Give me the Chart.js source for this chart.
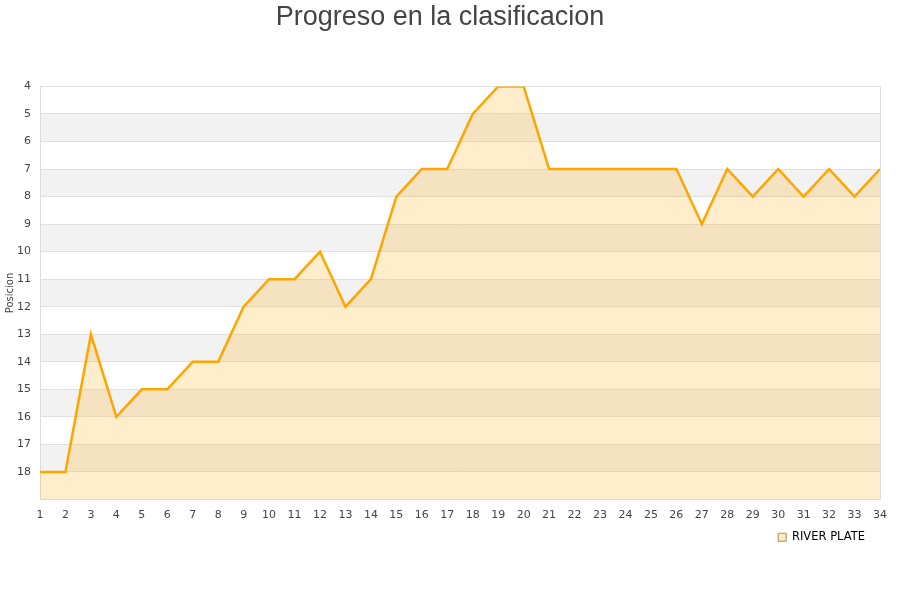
<!DOCTYPE html>
<html>
<head>
<meta charset="utf-8">
<script src="https://cdn.jsdelivr.net/npm/chart.js@4/dist/chart.umd.min.js"></script>
<style>
  html, body { margin: 0; padding: 0; background: #fff; }
  #wrap { width: 900px; height: 600px; }
</style>
</head>
<body>
<div id="wrap"><canvas id="c" width="900" height="600"></canvas></div>
<script>
const jornadas = ['1','2','3','4','5','6','7','8','9','10','11','12','13','14','15','16','17','18','19','20','21','22','23','24','25','26','27','28','29','30','31','32','33','34'];
const posiciones = [18,18,13,16,15,15,14,14,12,11,11,10,12,11,8,7,7,5,4,4,7,7,7,7,7,7,9,7,8,7,8,7,8,7];
const equipo = 'RIVER PLATE';
const titulo = 'Progreso en la clasificacion';
const ejeY = 'Posicion';
const posMin = 4, posMax = 19;

const bandPlugin = {
  id: 'bands',
  afterLayout(chart) {
    const lg = chart.legend;
    if (lg) {
      const dx = -10, dy = 3;
      lg.left += dx; lg.right += dx;
      lg.top += dy; lg.bottom += dy;
    }
  },
  beforeDraw(chart) {
    const { ctx, chartArea: a, scales: { y } } = chart;
    ctx.save();
    for (let v = posMin; v < posMax; v++) {
      if (v % 2 === 1) {
        const y1 = y.getPixelForValue(v), y2 = y.getPixelForValue(v + 1);
        ctx.fillStyle = '#f2f2f2';
        ctx.fillRect(a.left, Math.min(y1, y2), a.right - a.left, Math.abs(y2 - y1));
      }
    }
    ctx.restore();
  },
  afterDatasetsDraw(chart) {
    const { ctx, chartArea: a } = chart;
    ctx.save();
    ctx.strokeStyle = '#dcdcdc';
    ctx.lineWidth = 1;
    ctx.beginPath();
    ctx.moveTo(Math.round(a.right) + 0.5, a.top);
    ctx.lineTo(Math.round(a.right) + 0.5, a.bottom);
    ctx.stroke();
    ctx.restore();
  }
};

new Chart(document.getElementById('c'), {
  type: 'line',
  data: {
    labels: jornadas,
    datasets: [{
      label: equipo,
      data: posiciones,
      borderColor: '#ffa500',
      backgroundColor: 'rgba(255,165,0,0.2)',
      borderWidth: 2.5,
      fill: { value: posMax },
      tension: 0,
      pointRadius: 0,
      pointHoverRadius: 0
    }]
  },
  options: {
    responsive: false,
    animation: false,
    layout: { padding: { left: 0, right: 20, top: 0, bottom: 50 } },
    plugins: {
      title: {
        display: true,
        text: titulo,
        color: '#444',
        font: { family: 'Liberation Sans, Arial, sans-serif', size: 27, weight: 'normal' },
        padding: { top: 1, bottom: 53 }
      },
      legend: {
        display: true,
        position: 'bottom',
        align: 'end',
        labels: {
          color: '#222',
          font: { family: 'DejaVu Sans, sans-serif', size: 11.5 },
          boxWidth: 8,
          boxHeight: 8,
          padding: 5,
          generateLabels(chart) {
            return [{
              text: equipo,
              fillStyle: '#fde9c4',
              strokeStyle: '#b08a50',
              lineWidth: 1,
              datasetIndex: 0
            }];
          }
        }
      },
      tooltip: { enabled: false }
    },
    scales: {
      x: {
        offset: false,
        grid: { display: false },
        border: { display: true, color: '#dcdcdc' },
        ticks: {
          color: '#444',
          font: { family: 'DejaVu Sans, sans-serif', size: 11 },
          maxRotation: 0,
          autoSkip: false,
          padding: 1
        },
        afterFit(s) { s.height = 24; }
      },
      y: {
        reverse: true,
        min: posMin,
        max: posMax,
        grid: { color: '#e0e0e0', drawTicks: false },
        border: { display: true, color: '#dcdcdc' },
        ticks: {
          stepSize: 1,
          color: '#444',
          padding: 9,
          font: { family: 'DejaVu Sans, sans-serif', size: 11 },
          callback: (v) => (v === posMax ? '' : v)
        },
        title: {
          display: true,
          text: ejeY,
          color: '#444',
          font: { family: 'DejaVu Sans, sans-serif', size: 10 },
          padding: { top: 4, bottom: 0 }
        },
        afterFit(s) { s.width = 40; }
      }
    }
  },
  plugins: [bandPlugin]
});
</script>
</body>
</html>
